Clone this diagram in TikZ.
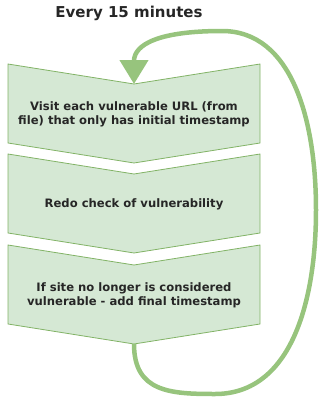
\documentclass[tikz,border=0pt]{standalone}
\usepackage{fontspec}
\setmainfont{DejaVu Sans}
\usetikzlibrary{arrows.meta}
\definecolor{stepfill}{HTML}{D5E8D4}
\definecolor{stepline}{HTML}{82B366}
\definecolor{loopline}{HTML}{97C47D}
\begin{document}
\begin{tikzpicture}[x=1pt,y=-1pt,
				stepshape/.style={fill=stepfill, draw=stepline, line width=0.8pt, line join=miter},
				steptext/.style={align=center, font=\fontsize{11.6}{14}\selectfont\bfseries, text=black!85},
				titlenode/.style={font=\fontsize{15}{18}\selectfont\bfseries, text=black!85},
			]
			\useasboundingbox (0,0) rectangle (320,399);
			% chevron steps
			\foreach \y in {64,154,245}
				\draw[stepshape] (8,\y) -- (134,\y+20) -- (260,\y) -- (260,\y+79) -- (134,\y+99) -- (8,\y+79) -- cycle;
			\node[titlenode] (title) at (129,13) {Every 15 minutes};
			\node[steptext] (visit) at (134,114) {Visit each vulnerable URL (from\\file) that only has initial timestamp};
			\node[steptext] (redo) at (134,204) {Redo check of vulnerability};
			\node[steptext] (final) at (134,295) {If site no longer is considered\\vulnerable - add final timestamp};
			\coordinate (visittop) at (134,84);
			\coordinate (finaltip) at (134,344);
			\draw[loopline, line width=4.5pt, -{Triangle[width=28pt,length=24pt]}] (finaltip) .. controls (134,392) and (170,394) .. (215,394) .. controls (292,394) and (316,300) .. (316,210) .. controls (316,120) and (292,31) .. (222,31) .. controls (160,31) and (134,44) .. (visittop);
			\end{tikzpicture}
\end{document}
